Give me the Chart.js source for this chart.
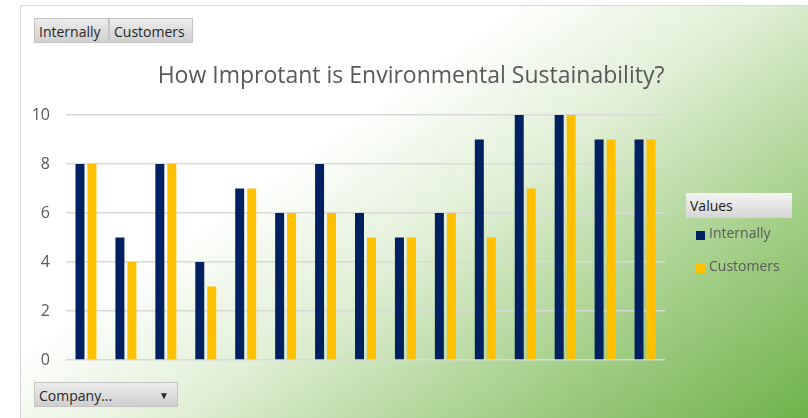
<!DOCTYPE html>
<html>
<head>
<meta charset="utf-8">
<script src="https://cdn.jsdelivr.net/npm/chart.js@4"></script>
<style>
  html, body { margin: 0; padding: 0; background: #fff; }
  #wrap {
    position: relative; width: 808px; height: 418px; overflow: hidden;
    font-family: "Open Sans", "Liberation Sans", sans-serif;
  }
  #panel {
    position: absolute; left: 20px; top: 5px; width: 800px; height: 420px;
    border-left: 1px solid #d9d9d9; border-top: 1px solid #d9d9d9;
    background: linear-gradient(145deg, #ffffff 0%, #ffffff 35%, #e0efd5 53%, #a6d08b 75%, #6cb046 100%);
  }
  canvas { position: absolute; left: 0; top: 0; }
  .btn {
    position: absolute; height: 25px; line-height: 25px; font-size: 14px; color: #262626;
    background: linear-gradient(#ececec, #cfcfcf); border: 1px solid #c4c4c4; box-sizing: border-box;
    padding-left: 4px;
  }
  #title {
    position: absolute; left: 0; width: 822px; top: 58px; text-align: center;
    font-size: 23px; color: #595959;
  }
  #legend { position: absolute; left: 686px; top: 193px; }
  #legend .head {
    width: 106px; height: 25px; line-height: 25px; font-size: 14px; color: #1a1a1a; padding-left: 4px;
    box-sizing: border-box; background: linear-gradient(#f4f4f4, #d6d6d6);
  }
  #legend .item { position: relative; height: 33px; font-size: 14px; color: #595959; }
  #legend .item span.sw { position: absolute; left: 10px; top: 13px; width: 9px; height: 9px; }
  #legend .item span.tx { position: absolute; left: 23px; top: 5px; }
</style>
</head>
<body>
<div id="wrap">
  <div id="panel"></div>
  <canvas id="chart" width="808" height="418"></canvas>
  <div class="btn" style="left:34px; top:18px; width:75px;">Internally</div>
  <div class="btn" style="left:109px; top:18px; width:84px;">Customers</div>
  <div id="title">How Improtant is Environmental Sustainability?</div>
  <div id="legend"><div class="head">Values</div></div>
  <div class="btn" style="left:34px; top:382px; width:144px;">Company...
    <span style="position:absolute; right:8px; top:0; font-size:10px;">&#9660;</span></div>
</div>
<script>
// Chart data
const companies = ['A', 'B', 'C', 'D', 'E', 'F', 'G', 'H', 'I', 'J', 'K', 'L', 'M', 'N', 'O'];
const internally = [8, 5, 8, 4, 7, 6, 8, 6, 5, 6, 9, 10, 10, 9, 9];
const customers = [8, 4, 8, 3, 7, 6, 6, 5, 5, 6, 5, 7, 10, 9, 9];
const yTicks = [0, 2, 4, 6, 8, 10];

const seriesNames = ['Internally', 'Customers'];
const seriesColors = ['#002060', '#ffc000'];

function initChart() {
    const ctx = document.getElementById('chart');
    new Chart(ctx, {
        type: 'bar',
        data: {
            labels: companies,
            datasets: [
                { label: seriesNames[0], data: internally, backgroundColor: seriesColors[0] },
                { label: seriesNames[1], data: customers, backgroundColor: seriesColors[1] }
            ]
        },
        options: {
            responsive: false,
            animation: false,
            layout: { padding: { left: 30, right: 143, top: 115, bottom: 58 } },
            datasets: { bar: { categoryPercentage: 0.6, barPercentage: 0.75 } },
            plugins: { legend: { display: false }, title: { display: false }, tooltip: { enabled: false } },
            scales: {
                x: { display: false },
                y: {
                    min: 0, max: 10,
                    afterFit: scale => { scale.width = 36; },
                    afterBuildTicks: scale => { scale.ticks = yTicks.map(v => ({ value: v })); },
                    border: { display: false },
                    grid: { color: '#d9d9d9', drawTicks: false, lineWidth: 1.5 },
                    ticks: { padding: 16, color: '#595959', font: { family: 'Open Sans', size: 16 } }
                }
            }
        }
    });
}

// HTML legend built from the series
function initLegend() {
    const legend = document.getElementById('legend');
    seriesNames.forEach((name, i) => {
        const item = document.createElement('div');
        item.className = 'item';
        item.innerHTML = `<span class="sw" style="background:${seriesColors[i]}"></span><span class="tx">${name}</span>`;
        legend.appendChild(item);
    });
}

initChart();
initLegend();
</script>
</body>
</html>
